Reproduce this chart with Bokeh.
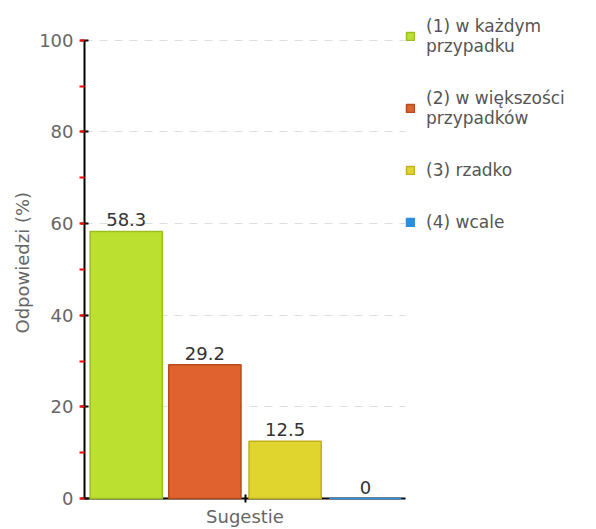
from bokeh.plotting import figure
from bokeh.models import ColumnDataSource, Legend, LegendItem, SingleIntervalTicker, FixedTicker, Range1d, Title
from bokeh.embed import file_html
from bokeh.resources import INLINE

# ---- data ----
categories = ["(1) w każdym\nprzypadku", "(2) w większości\nprzypadków", "(3) rzadko", "(4) wcale"]
values = [58.3, 29.2, 12.5, 0]
value_labels = ["58.3", "29.2", "12.5", "0"]
fill_colors = ["#bce030", "#e0632f", "#e0d42e", "#2a8fe0"]
line_colors = ["#9bbe1e", "#b94a1c", "#bfb21c", "#2a8fe0"]
x_positions = [0.52, 1.5, 2.5, 3.5]
group_label = "Sugestie"
y_title = "Odpowiedzi (%)"

FONT = "DejaVu Sans"

# ---- layout (pixels) ----
W, H = 596, 529
PLOT_LEFT, PLOT_RIGHT, PLOT_TOP, PLOT_BOTTOM = 84, 405, 40, 500
X_MAX, Y_MAX = 4, 100
# the frame spans the whole canvas right of / above the axes so the legend is not clipped;
# axes and grid are bounded to the data area
x_end = X_MAX * (W - PLOT_LEFT) / (PLOT_RIGHT - PLOT_LEFT)
y_end = Y_MAX * PLOT_BOTTOM / (PLOT_BOTTOM - PLOT_TOP)

src = ColumnDataSource(dict(x=x_positions, top=values, lab=value_labels,
                            cat=categories, fill=fill_colors, line=line_colors))

p = figure(width=W, height=H, output_backend="svg", toolbar_location=None,
           x_range=Range1d(0, x_end), y_range=Range1d(0, y_end),
           min_border_left=PLOT_LEFT, min_border_right=0, min_border_top=0,
           min_border_bottom=H - PLOT_BOTTOM)
p.outline_line_color = None
p.background_fill_color = "white"
p.border_fill_color = "white"

bars = p.vbar(x="x", top="top", bottom=0, width=0.9, source=src,
              fill_color="fill", line_color="line", line_width=1.5, level="overlay")

p.text(x="x", y="top", text="lab", source=src, text_align="center",
       text_baseline="bottom", y_offset=-5, text_font_size="18px",
       text_color="#333333", text_font={"value": FONT})

# grid
p.xgrid.visible = False
p.ygrid.grid_line_color = "#dddddd"
p.ygrid.grid_line_dash = "8 7"
p.ygrid.grid_line_width = 1
p.ygrid.bounds = (0, Y_MAX)
if "cross_bounds" in p.ygrid[0].properties():
    p.ygrid.cross_bounds = (0, X_MAX)

# y axis
ya = p.yaxis[0]
ya.bounds = (0, Y_MAX)
ya.ticker = SingleIntervalTicker(interval=20, num_minor_ticks=2)
ya.axis_line_width = 2
ya.axis_line_color = "black"
ya.major_tick_in = 4
ya.major_tick_out = 4
ya.major_tick_line_width = 2
ya.major_tick_line_color = "black"
ya.minor_tick_in = 0
ya.minor_tick_out = 5
ya.minor_tick_line_color = "red"
ya.minor_tick_line_width = 2
ya.major_label_text_font = FONT
ya.major_label_text_font_size = "18px"
ya.major_label_text_color = "#666666"
ya.major_label_standoff = 6

# y axis title, starting from the bottom of the axis (the frame extends above it)
ytitle = Title(text=y_title, align="left", offset=165,
               text_font=FONT, text_font_size="18px", text_font_style="normal",
               text_color="#666666", standoff=8)
p.add_layout(ytitle, "left")

# x axis
xa = p.xaxis[0]
xa.bounds = (0, X_MAX)
xa.ticker = FixedTicker(ticks=[X_MAX / 2])
xa.major_label_overrides = {X_MAX / 2: group_label}
xa.axis_line_width = 2
xa.axis_line_color = "black"
xa.major_tick_in = 4
xa.major_tick_out = 4
xa.major_tick_line_width = 2
xa.major_tick_line_color = "black"
xa.minor_tick_line_color = None
xa.major_label_text_font = FONT
xa.major_label_text_font_size = "18px"
xa.major_label_text_color = "#666666"
xa.major_label_standoff = 3

# legend
items = [LegendItem(label=categories[i], renderers=[bars], index=i) for i in range(len(categories))]
legend = Legend(items=items, location=(PLOT_RIGHT - PLOT_LEFT, 266), padding=0, margin=0, spacing=32,
                glyph_width=10, glyph_height=10, label_standoff=11,
                label_text_font=FONT, label_text_font_size="17px",
                label_text_color="#555555", label_text_line_height=1.2,
                border_line_color=None, background_fill_alpha=0)
p.add_layout(legend, "center")

open("out.html", "w").write(file_html(p, INLINE))
